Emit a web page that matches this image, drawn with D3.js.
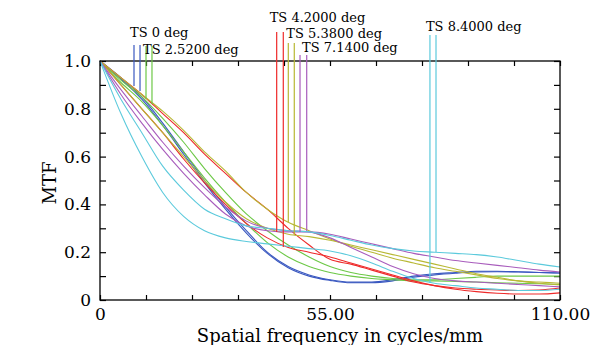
<!DOCTYPE html>
<html>
<head>
<meta charset="utf-8">
<script src="https://cdn.jsdelivr.net/npm/d3@7"></script>
<style>
  body { margin: 0; background: #fff; }
  text { font-family: "DejaVu Serif", serif; fill: #000; }
</style>
</head>
<body>
<svg id="chart" width="614" height="345"></svg>
<script>
// spatial frequency samples (cycles/mm)
const freq = [0, 5, 10, 15, 20, 25, 30, 35, 40, 45, 50, 55, 60, 65, 70, 75, 80, 85, 90, 95, 100, 105, 110];

const fields = ['0', '2.5200', '4.2000', '5.3800', '7.1400', '8.4000'];
const colors = ['#3a58c0', '#6cc846', '#ee2a2a', '#b8b835', '#a85cbc', '#5ccadc'];

// MTF values, tangential / sagittal per field
const blueT   = [1, .93, .85, .74, .62, .50, .39, .29, .20, .14, .105, .085, .075, .075, .085, .10, .11, .115, .12, .12, .118, .115, .113];
const blueS   = [1, .925, .84, .73, .61, .49, .38, .28, .195, .135, .10, .082, .072, .072, .08, .095, .105, .112, .117, .118, .117, .115, .113];
const greenT  = [1, .92, .85, .76, .66, .55, .45, .36, .29, .23, .18, .14, .115, .10, .09, .085, .085, .09, .095, .10, .10, .10, .10];
const greenS  = [1, .91, .83, .73, .62, .51, .41, .32, .24, .18, .14, .115, .10, .09, .085, .08, .08, .078, .075, .072, .07, .068, .065];
const redT    = [1, .93, .86, .78, .70, .61, .53, .45, .38, .30, .23, .17, .15, .125, .10, .075, .06, .05, .045, .042, .04, .042, .05];
const redS    = [1, .90, .80, .70, .59, .49, .40, .32, .26, .22, .20, .18, .155, .13, .105, .08, .06, .045, .035, .028, .025, .025, .03];
const oliveT  = [1, .93, .86, .79, .71, .62, .54, .45, .38, .325, .29, .255, .225, .20, .175, .155, .135, .12, .105, .09, .08, .075, .07];
const oliveS  = [1, .90, .80, .70, .60, .50, .41, .34, .30, .275, .265, .25, .23, .21, .19, .17, .15, .13, .11, .095, .08, .07, .063];
const purpleT = [1, .86, .74, .63, .53, .44, .36, .31, .29, .285, .285, .275, .255, .235, .215, .195, .18, .165, .155, .145, .135, .125, .117];
const purpleS = [1, .88, .77, .66, .56, .47, .39, .33, .30, .29, .285, .26, .22, .18, .14, .11, .09, .08, .075, .07, .065, .06, .055];
const cyanT   = [1, .84, .70, .56, .46, .38, .34, .31, .30, .29, .285, .27, .25, .23, .215, .205, .20, .195, .19, .18, .165, .15, .138];
const cyanS   = [1, .78, .60, .45, .35, .29, .26, .245, .235, .225, .215, .205, .185, .155, .12, .09, .07, .06, .05, .045, .04, .04, .045];

// field marker lines (frequency, MTF where the line stops)
const markerFreq = [[8.13, 9.57], [11.0, 12.43], [42.25, 43.83], [45.03, 46.46], [47.83, 49.43], [78.9, 80.35]];
const markerEnd  = [[.895, .874], [.841, .820], [.285, .222], [.326, .272], [.285, .289], [.071, .201]];

const xTickLabels = { 0: '0', 55: '55.00', 110: '110.00' };

const series = [
  [blueT, blueS], [greenT, greenS], [redT, redS],
  [oliveT, oliveS], [purpleT, purpleS], [cyanT, cyanS]
];

// label placement: offset from first marker line, text baseline, top of marker lines
const labelPos = [
  { dx: -4, base: 37, top: 45 },
  { dx: -3, base: 54, top: 46 },
  { dx: -7, base: 22, top: 32 },
  { dx: -2, base: 37.5, top: 43 },
  { dx: 2, base: 52, top: 55 },
  { dx: -4, base: 31, top: 35 }
];

const svg = d3.select('#chart');
const pLeft = 100, pRight = 560, pTop = 61, pBottom = 300;

const x = d3.scaleLinear().domain([0, 110]).range([pLeft, pRight]);
const y = d3.scaleLinear().domain([0, 1]).range([pBottom, pTop]);

const xt = d3.range(0, 111, 11);
const yt = d3.range(0, 1.001, 0.1);

function styleAxis(g) {
  g.select('.domain').remove();
  g.selectAll('line').attr('stroke', '#000').attr('stroke-width', 1.2);
  g.selectAll('text').style('font-family', '"DejaVu Serif", serif').style('font-size', '17px').attr('fill', '#000');
}

svg.append('g').attr('transform', `translate(0,${pBottom})`)
  .call(d3.axisBottom(x).tickValues(xt).tickSize(-5).tickPadding(8)
    .tickFormat(d => xTickLabels[d] || ''))
  .call(styleAxis);

svg.append('g').attr('transform', `translate(0,${pTop})`)
  .call(d3.axisTop(x).tickValues(xt).tickSize(-5).tickFormat(''))
  .call(styleAxis);

svg.append('g').attr('transform', `translate(${pLeft},0)`)
  .call(d3.axisLeft(y).tickValues(yt).tickSize(-6).tickPadding(9)
    .tickFormat((d, i) => i % 2 ? '' : (d === 0 ? '0' : d.toFixed(1))))
  .call(styleAxis);

svg.append('g').attr('transform', `translate(${pRight},0)`)
  .call(d3.axisRight(y).tickValues(yt).tickSize(-6).tickFormat(''))
  .call(styleAxis);

// curves
const line = d3.line()
  .x((d, i) => x(freq[i]))
  .y(d => y(d))
  .curve(d3.curveMonotoneX);

const curves = svg.append('g').attr('fill', 'none').attr('stroke-width', 1.1);
series.forEach((pair, k) => {
  pair.forEach(vals => {
    curves.append('path')
      .attr('d', line(vals))
      .attr('stroke', colors[k]);
  });
});

// frame
svg.append('rect')
  .attr('x', pLeft).attr('y', pTop)
  .attr('width', pRight - pLeft).attr('height', pBottom - pTop)
  .attr('fill', 'none').attr('stroke', '#000').attr('stroke-width', 1.3);

// field markers and labels
fields.forEach((f, k) => {
  const p = labelPos[k];
  markerFreq[k].forEach((fr, j) => {
    svg.append('line')
      .attr('x1', x(fr)).attr('x2', x(fr))
      .attr('y1', p.top).attr('y2', y(markerEnd[k][j]))
      .attr('stroke', colors[k]).attr('stroke-width', 1.2);
  });
  svg.append('text')
    .attr('x', x(markerFreq[k][0]) + p.dx)
    .attr('y', p.base)
    .style('font-size', '13px')
    .text(`TS ${f} deg`);
});

svg.append('text')
  .attr('x', 340).attr('y', 342)
  .attr('text-anchor', 'middle')
  .style('font-size', '18px')
  .text('Spatial frequency in cycles/mm');

svg.append('text')
  .attr('transform', 'translate(56,183) rotate(-90)')
  .attr('text-anchor', 'middle')
  .style('font-size', '18px')
  .text('MTF');
</script>
</body>
</html>
